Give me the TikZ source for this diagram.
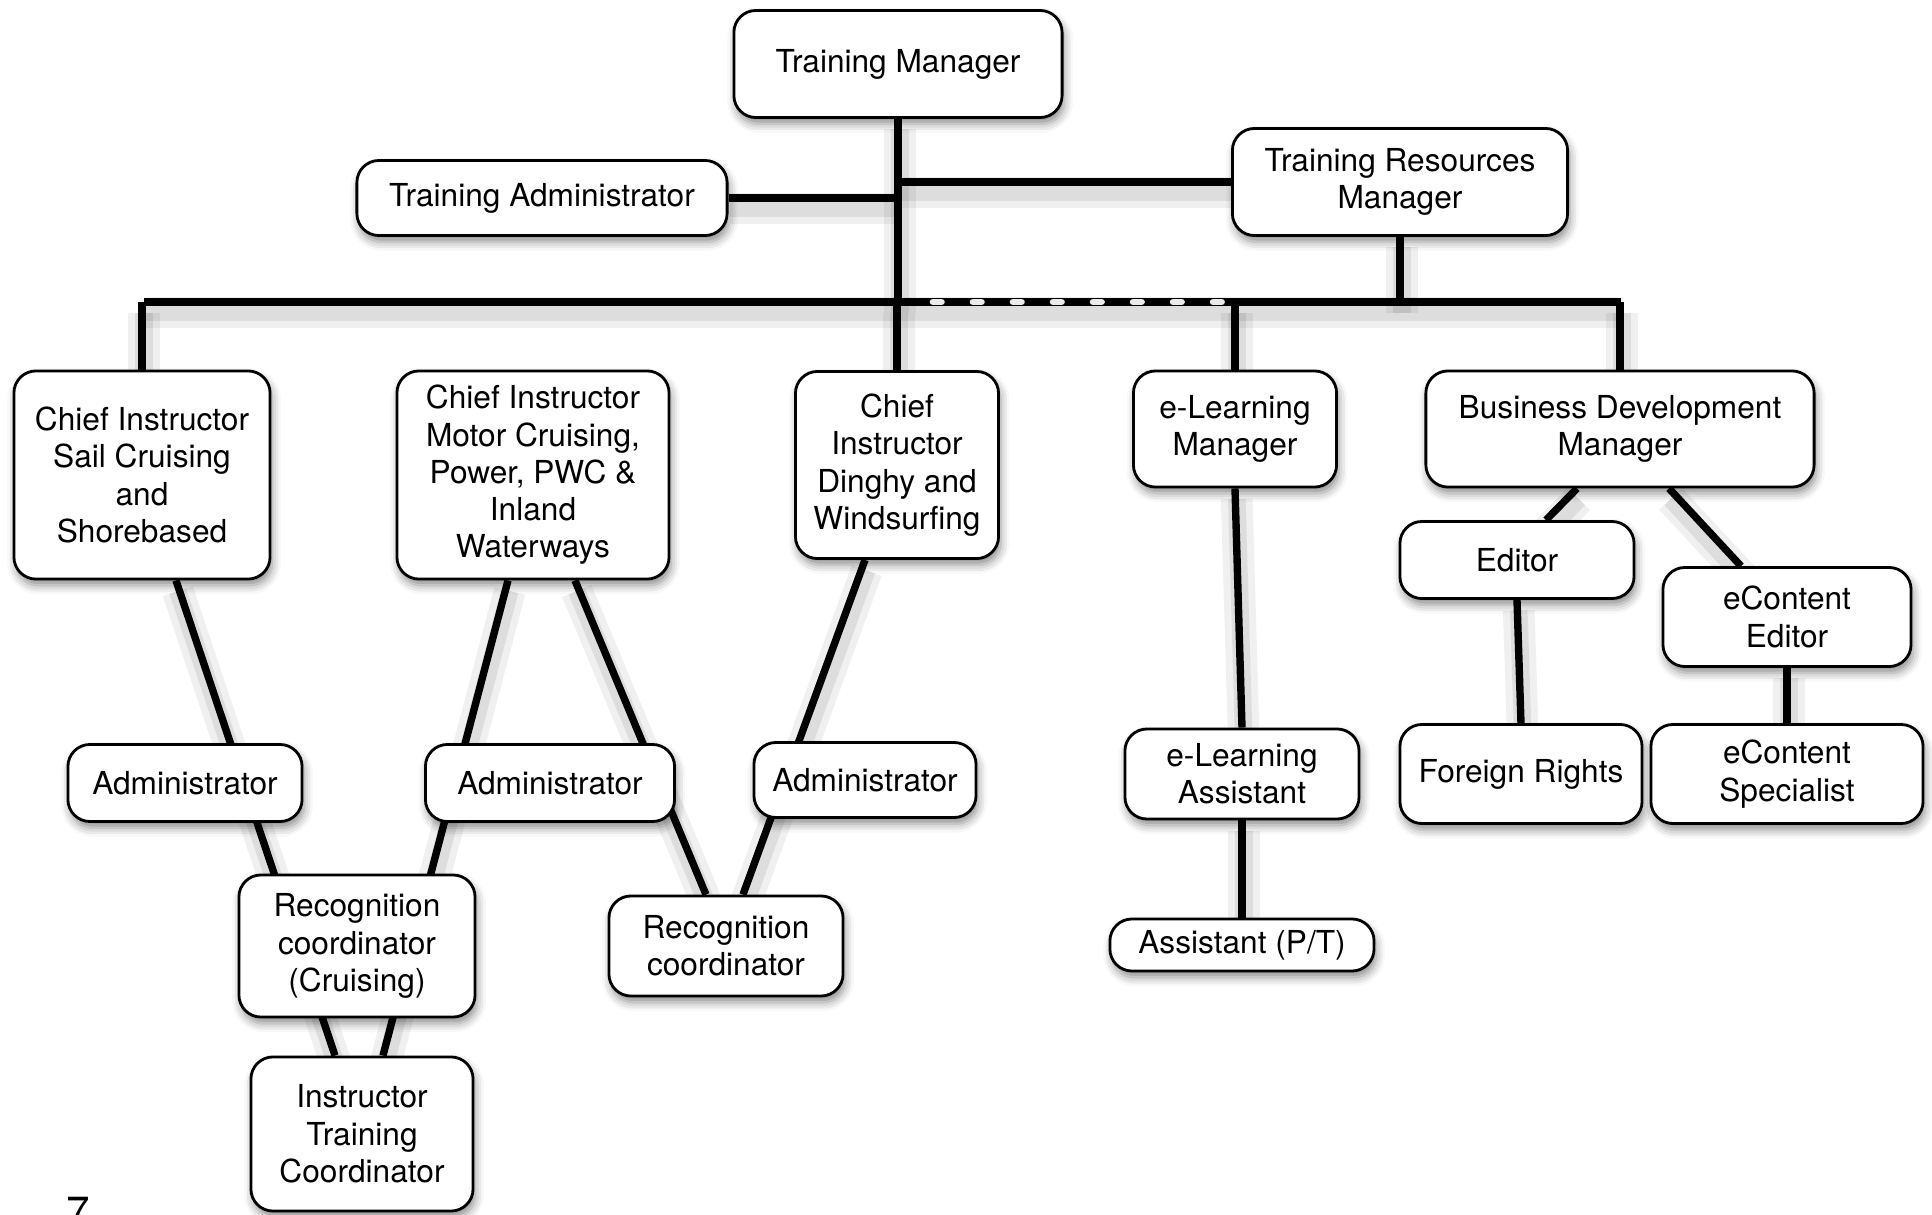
\documentclass[tikz,border=0pt]{standalone}
\usepackage{fontspec}
\setmainfont{TeX Gyre Heros}
\usetikzlibrary{calc,backgrounds,shadows.blur}
\tikzset{
  role/.style={draw, line width=0.8pt, rounded corners=0.22cm, fill=white, align=center, inner sep=0pt,
    font=\fontsize{9}{10.6}\selectfont,
    blur shadow={shadow xshift=0.6pt, shadow yshift=-1.8pt, shadow blur radius=2.5pt, shadow opacity=45}},
  link/.style={line width=2.1pt,
    preaction={draw=black, opacity=0.06, line width=9pt, transform canvas={shift={(0.5pt,-3pt)}}},
    preaction={draw=black, opacity=0.08, line width=5pt, transform canvas={shift={(0.5pt,-3pt)}}}},
}
\begin{document}
\begin{tikzpicture}[x=0.01cm, y=-0.01cm]
  \useasboundingbox (0,0) rectangle (1932,1215);
  % top level
  \node[role, minimum width=3.28cm, minimum height=1.07cm] (tm) at (898,64) {Training Manager};
  \node[role, minimum width=3.70cm, minimum height=0.75cm] (tadmin) at (542,198) {Training Administrator};
  \node[role, minimum width=3.35cm, minimum height=1.07cm] (trm) at (1400,182) {Training Resources\\Manager};
  % second level
  \node[role, minimum width=2.56cm, minimum height=2.08cm] (cisail) at (142,475) {Chief Instructor\\Sail Cruising\\and\\Shorebased};
  \node[role, minimum width=2.72cm, minimum height=2.08cm] (cimotor) at (533,475) {Chief Instructor\\Motor Cruising,\\Power, PWC \&\\Inland\\Waterways};
  \node[role, minimum width=2.03cm, minimum height=1.87cm] (cidinghy) at (897,465) {Chief\\Instructor\\Dinghy and\\Windsurfing};
  \node[role, minimum width=2.03cm, minimum height=1.16cm] (elm) at (1235,429) {e-Learning\\Manager};
  \node[role, minimum width=3.88cm, minimum height=1.16cm] (bdm) at (1620,429) {Business Development\\Manager};
  % third level
  \node[role, minimum width=2.34cm, minimum height=0.77cm] (editor) at (1517,560) {Editor};
  \node[role, minimum width=2.48cm, minimum height=0.99cm] (ecedit) at (1787,617) {eContent\\Editor};
  \node[role, minimum width=2.42cm, minimum height=0.99cm] (frights) at (1521,774) {Foreign Rights};
  \node[role, minimum width=2.72cm, minimum height=0.99cm] (ecspec) at (1787,774) {eContent\\Specialist};
  \node[role, minimum width=2.34cm, minimum height=0.77cm] (admA) at (185,783) {Administrator};
  \node[role, minimum width=2.49cm, minimum height=0.77cm] (admB) at (550,783) {Administrator};
  \node[role, minimum width=2.22cm, minimum height=0.75cm] (admC) at (865,780) {Administrator};
  \node[role, minimum width=2.34cm, minimum height=0.90cm] (ela) at (1242,774) {e-Learning\\Assistant};
  \node[role, minimum width=2.64cm, minimum height=0.52cm] (asst) at (1242,945) {Assistant (P/T)};
  % bottom
  \node[role, minimum width=2.36cm, minimum height=1.42cm] (recA) at (357,946) {Recognition\\coordinator\\(Cruising)};
  \node[role, minimum width=2.34cm, minimum height=1.00cm] (recB) at (726,946) {Recognition\\coordinator};
  \node[role, minimum width=2.22cm, minimum height=1.54cm] (itc) at (362,1134) {Instructor\\Training\\Coordinator};
  \node[anchor=north west, inner sep=0pt, font=\fontsize{12}{14}\selectfont] (pgnum) at (66,1197) {7};
  % connectors
  \coordinate (busL) at (144,302);
  \coordinate (busR) at (1621,302);
  \begin{pgfonlayer}{background}
    \draw[link] (busL) -- (busR);
    \draw[link] (tm.south) -- (tm.south |- busL);
    \draw[link] (tadmin.east) -- (tadmin.east -| tm.south);
    \draw[link] (trm.west) -- (trm.west -| tm.south);
    \draw[link] (trm.south) -- (trm.south |- busL);
    \draw[link] (cisail.north) -- (cisail.north |- busL);
    \draw[link] ($(cimotor.north)+(7,0)$) -- ($(cimotor.north)+(7,0)$ |- busL);
    \draw[link] (cidinghy.north) -- (cidinghy.north |- busL);
    \draw[link] (elm.north) -- (elm.north |- busL);
    \draw[link] (bdm.north) -- (bdm.north |- busL);
    \draw[link] ($(cisail.south)+(34,0)$) -- ($(itc.north)+(-27,0)$);
    \draw[link] ($(cimotor.south)+(-25,0)$) -- ($(itc.north)+(21,0)$);
    \draw[link] ($(cimotor.south)+(42,0)$) -- ($(recB.north)+(-20,0)$);
    \draw[link] ($(cidinghy.south)+(-32,0)$) -- ($(recB.north)+(17,0)$);
    \draw[link] ($(bdm.south)+(-43,0)$) -- ($(editor.north)+(29,0)$);
    \draw[link] ($(bdm.south)+(49,0)$) -- ($(ecedit.north)+(-46,0)$);
    \draw[link] (editor.south) -- (frights.north);
    \draw[link] (ecedit.south) -- (ecspec.north);
    \draw[link] (elm.south) -- (ela.north);
    \draw[link] (ela.south) -- (asst.north);
    % white dots on the bus
    \draw[black!8, line width=1.9pt, line cap=round, dash pattern=on 2.4pt off 8.98pt] (933,302) -- (1222,302);
  \end{pgfonlayer}
\end{tikzpicture}
\end{document}
